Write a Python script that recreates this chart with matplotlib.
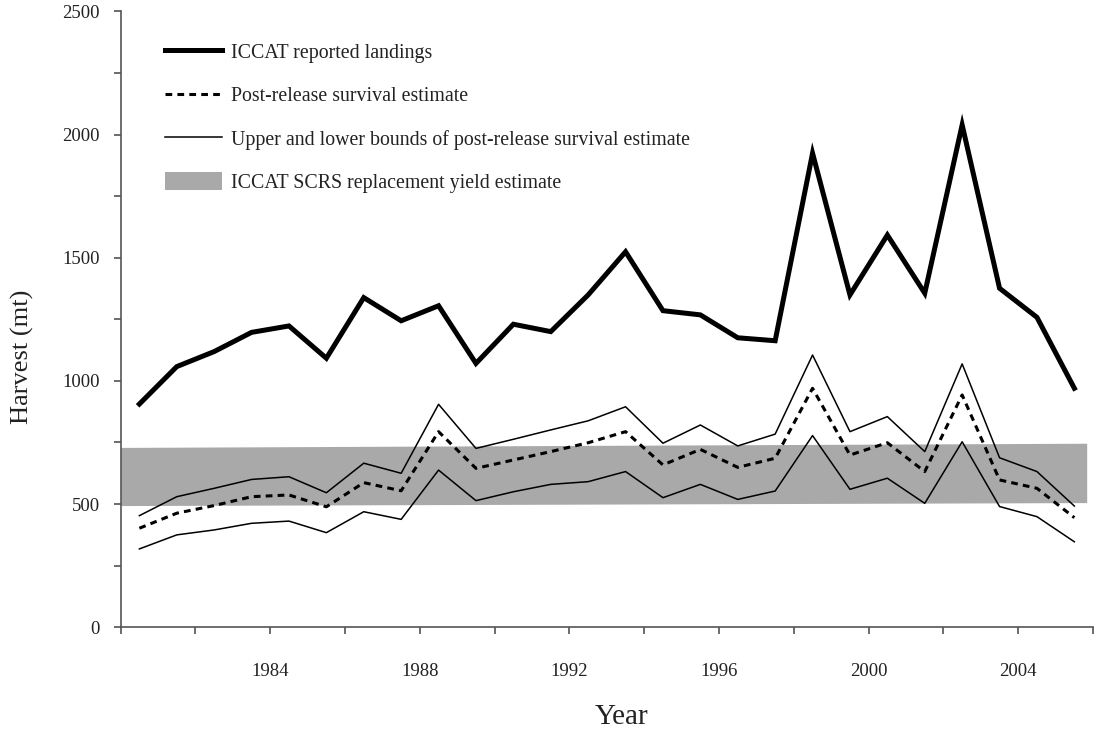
import numpy as np
import matplotlib
matplotlib.use('Agg')
from matplotlib import pyplot as plt
from matplotlib.ticker import MultipleLocator

plt.rcParams['font.family'] = ['Liberation Serif', 'DejaVu Serif']

# Data
years = list(range(1980, 2006))
landings = [906, 1058, 1119, 1197, 1223, 1092, 1338, 1244, 1305, 1071, 1230, 1200, 1349,
            1524, 1285, 1268, 1175, 1163, 1924, 1349, 1592, 1356, 2039, 1376, 1258, 970]
survival = [402, 463, 494, 530, 537, 489, 587, 554, 794, 645, 679, 713, 749,
            794, 659, 722, 649, 686, 970, 699, 749, 632, 943, 598, 564, 445]
upper = [453, 530, 564, 600, 611, 546, 666, 625, 905, 726, 763, 801, 838,
         895, 747, 821, 736, 784, 1105, 794, 855, 713, 1069, 688, 632, 492]
lower = [318, 375, 395, 422, 431, 384, 469, 438, 638, 514, 550, 580, 591,
         632, 526, 580, 519, 553, 778, 560, 605, 503, 753, 490, 449, 347]
band_x = [1980, 2005.83]
band_low = [494, 506]
band_high = [730, 747]

x = np.array(years) + 0.5  # points sit mid-year

fig = plt.figure(figsize=(10.97, 7.31), dpi=100)
ax = fig.add_axes([0.110, 0.1419, 0.8864, 0.8426])

# replacement yield band
ax.fill_between(band_x, band_low, band_high, color='#a9a9a9', linewidth=0,
                label='ICCAT SCRS replacement yield estimate', zorder=1)
ax.plot(x, landings, color='black', linewidth=3.6, solid_joinstyle='miter',
        label='ICCAT reported landings', zorder=4)
ax.plot(x, survival, color='black', linewidth=2.2, linestyle=(0, (2.2, 1.7)),
        label='Post-release survival estimate', zorder=3)
ax.plot(x, upper, color='black', linewidth=1.1,
        label='Upper and lower bounds of post-release survival estimate', zorder=3)
ax.plot(x, lower, color='black', linewidth=1.1, zorder=3)

ax.set_xlim(1980, 2006)
ax.set_ylim(0, 2500)

ax.spines['top'].set_visible(False)
ax.spines['right'].set_visible(False)
for s in ['left', 'bottom']:
    ax.spines[s].set_color('#555555')
    ax.spines[s].set_linewidth(1.2)

ax.yaxis.set_major_locator(MultipleLocator(500))
ax.yaxis.set_minor_locator(MultipleLocator(250))
ax.set_xticks(range(1980, 2007, 2), minor=True)
ax.set_xticks(range(1984, 2005, 4))
ax.tick_params(axis='both', which='both', direction='out', length=5, width=1.1,
               color='#444444', labelsize=13.5, labelcolor='#222222')
ax.tick_params(axis='y', which='major', pad=10)
ax.tick_params(axis='x', which='major', pad=21)

ax.set_xlabel('Year', fontsize=21, color='#222222')
ax.set_ylabel('Harvest (mt)', fontsize=19, color='#222222')
ax.xaxis.set_label_coords(0.5146, -0.1456)
ax.yaxis.set_label_coords(-0.1015, 0.439)
ax.xaxis.label.set_va('center')
ax.yaxis.label.set_va('center')

handles, labels = ax.get_legend_handles_labels()
order = [1, 2, 3, 0]
leg = ax.legend([handles[i] for i in order], [labels[i] for i in order],
                loc='upper left', bbox_to_anchor=(0.027, 0.978), frameon=False,
                fontsize=14.3, handlelength=2.9, handleheight=0.95,
                labelspacing=1.15, handletextpad=0.45)
for t in leg.get_texts():
    t.set_color('#222222')

plt.savefig('out.png', dpi=100)
